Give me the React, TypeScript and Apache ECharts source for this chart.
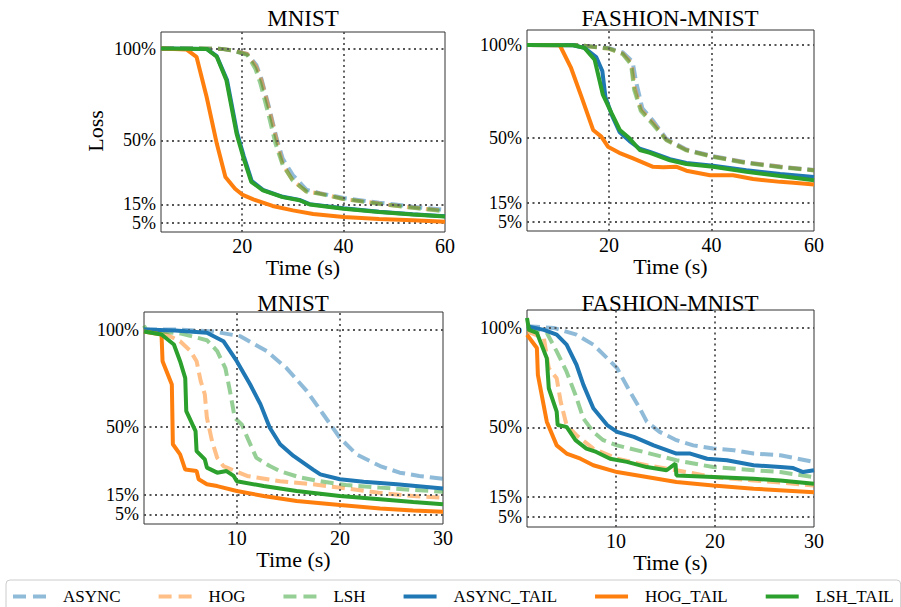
import React, { useEffect, useRef } from 'react';
import * as echarts from 'echarts';

const SERIES_NAMES = ['ASYNC', 'HOG', 'LSH', 'ASYNC_TAIL', 'HOG_TAIL', 'LSH_TAIL'];
const PANEL_TITLES = ['MNIST', 'FASHION-MNIST', 'MNIST', 'FASHION-MNIST'];
const Y_TICKS = [5, 15, 50, 100];
const X_TICKS_TOP = [20, 40, 60];
const X_TICKS_BOTTOM = [10, 20, 30];

// Panel 1: MNIST, 60 s
const mnist60Async = [[4, 100], [10, 100], [16, 99.8], [18, 99], [21, 97], [22.8, 91], [23.8, 83.5], [25.4, 67], [26.8, 51], [28, 40], [30, 31], [32.7, 23], [35.3, 21.2], [40, 18.5], [47, 16], [53.6, 13.8], [60, 12]];
const mnist60Hog = [[4, 100], [10, 100], [16, 99.8], [18, 99], [21, 97], [22.8, 90], [23.8, 82.7], [25.4, 66], [26.8, 50], [28, 37], [30, 28], [32.7, 22], [35.3, 21], [40, 18], [47, 15.5], [53.6, 13.3], [60, 11.5]];
const mnist60Lsh = [[4, 100], [10, 100], [16, 99.8], [18, 99], [21, 96.5], [22.6, 89], [23.6, 81], [25.2, 64], [26.6, 48], [28, 36.5], [30, 28], [32.7, 22], [35.3, 20.8], [40, 18], [47, 15.3], [53.6, 13.2], [60, 11.3]];
const mnist60AsyncTail = [[4, 100], [13, 99.8], [15, 95.8], [17, 83], [19, 54], [20.3, 41.5], [21.9, 27.8], [24.1, 23], [28, 19.2], [31.3, 17.5], [33.3, 15.2], [40, 12.9], [47, 11], [53.6, 9.7], [60, 8.6]];
const mnist60HogTail = [[4, 100], [9, 99.5], [11, 95.5], [13, 73.6], [15, 48.2], [16.7, 30], [18.6, 23.6], [20, 20.4], [22.2, 17.8], [26, 14.2], [30, 11.8], [34, 9.8], [40, 8.2], [47, 7.1], [53.6, 6.4], [60, 5.6]];
const mnist60LshTail = [[4, 100], [13, 99.8], [15, 95.5], [16.9, 82.7], [18.9, 53.6], [20.2, 41], [21.8, 27.3], [24.1, 22.7], [28, 19], [31.3, 17.3], [33.3, 15], [40, 12.7], [47, 10.9], [53.6, 9.6], [60, 8.5]];

// Panel 2: FASHION-MNIST, 60 s
const fashion60Async = [[4, 100], [13.6, 100], [20, 98.3], [22.7, 96], [24.6, 91], [25.3, 80], [26.5, 66], [28.8, 58.5], [31.2, 49.5], [35.1, 43.8], [40.3, 40.2], [46.8, 36.9], [53.4, 34.6], [60, 32.8]];
const fashion60Hog = [[4, 100], [13.6, 100], [20, 98], [22.7, 95.3], [24.4, 90], [25, 77], [26.3, 65], [28.6, 58], [31.2, 49], [35.1, 43.5], [40.3, 40], [46.8, 36.7], [53.4, 34.5], [60, 32.7]];
const fashion60Lsh = [[4, 100], [13.6, 100], [20, 98], [22.7, 95], [24.3, 89.5], [24.9, 76], [26.2, 64.5], [28.5, 57.5], [31.2, 48.8], [35.1, 43.3], [40.3, 39.8], [46.8, 36.5], [53.4, 34.3], [60, 32.5]];
const fashion60AsyncTail = [[4, 100], [13, 99.8], [15.2, 98.4], [17.5, 93.5], [18.7, 86], [19.3, 72], [20.6, 62], [22.1, 53], [24, 48.3], [26, 44.2], [28, 42.5], [31.9, 38.6], [35.1, 36.6], [40.3, 35.1], [46.8, 32.6], [53.4, 30.6], [60, 29]];
const fashion60HogTail = [[4, 100], [10.4, 99.8], [12.6, 87.6], [14.6, 72.3], [16.9, 54.3], [18.5, 50.7], [19.8, 45.3], [22, 42], [24.7, 39], [28.6, 34.5], [30.6, 34.2], [33.2, 34.5], [35.1, 32.4], [39.7, 30], [44.2, 30], [48.1, 27.9], [53.4, 26.4], [56, 25.9], [60, 25]];
const fashion60LshTail = [[4, 100], [13, 99.8], [15.2, 98.4], [17.2, 92], [18.8, 73.2], [20.5, 63.3], [22.1, 54.3], [24, 49.8], [26, 43.5], [28, 42], [31.9, 38], [35.1, 36], [40.3, 34.5], [46.8, 31.8], [53.4, 29.5], [60, 27.3]];

// Panel 3: MNIST, 30 s
const mnist30Async = [[1, 100], [4, 100], [7.7, 99], [10.3, 96.6], [12.9, 88.9], [14.8, 80.3], [16.8, 68.3], [18.4, 56.3], [20, 44.3], [21.6, 35.8], [23.9, 29.8], [25.8, 26.4], [27.7, 24.7], [30, 23.3]];
const mnist30Hog = [[1, 100], [3.2, 97.4], [4.5, 94], [5.5, 89], [6.1, 83.7], [6.5, 73.5], [6.9, 66.6], [7.1, 54.6], [7.6, 42.6], [8.1, 34], [8.7, 29.8], [11, 24.7], [14.2, 22], [17.4, 20.4], [20.6, 18.3], [23.9, 16], [27.1, 14.4], [30, 13.5]];
const mnist30Lsh = [[1, 102], [1.2, 100], [4.5, 98], [7.1, 94.5], [8.1, 88.9], [8.9, 80], [9.4, 66.6], [9.8, 54.6], [10.5, 51], [11.1, 43.5], [11.9, 34], [13.2, 29.8], [14.2, 27.2], [16.1, 24], [18.1, 22], [20.6, 20], [23.9, 18.7], [27.1, 17.5], [30, 16.6]];
const mnist30AsyncTail = [[1, 100], [4, 99.5], [7.1, 98.3], [8.7, 94], [10, 83.7], [11.3, 71.7], [12.3, 61.5], [13.2, 49.5], [14.2, 41], [15.5, 35], [17.4, 28], [18.1, 25.5], [20, 23], [22.3, 21.7], [25.5, 20.4], [30, 18.3]];
const mnist30HogTail = [[1, 99], [2.7, 97.4], [2.8, 83.7], [3.7, 71.7], [3.8, 41], [4.5, 35.8], [5, 28], [6.1, 27.2], [6.3, 23], [7.1, 20.4], [8.1, 19.5], [10, 17], [12.6, 14.4], [15.8, 11.8], [20, 9.8], [23.9, 8], [27.1, 7], [30, 6.3]];
const mnist30LshTail = [[1, 99], [2.7, 97.4], [3.9, 92.3], [4.5, 83.7], [5, 75], [5.1, 58], [6, 47.8], [6.1, 37.5], [6.9, 33.2], [7.1, 29], [8.1, 26.4], [9, 27.2], [9.7, 24.7], [10, 22], [12.6, 19.5], [15.8, 17], [20, 14.4], [23.9, 12.7], [27.1, 11.3], [30, 10.1]];

// Panel 4: FASHION-MNIST, 30 s
const fashion30Async = [[1, 100.8], [3.7, 100], [6, 96.6], [7.7, 91.6], [9.1, 84.8], [10.1, 79.8], [11.4, 68], [12.4, 59.6], [13.1, 52.9], [14.4, 47.8], [16.1, 43.6], [17.8, 41], [19.8, 39.4], [21.9, 38.6], [23.9, 36.9], [26.6, 36], [30, 32.7]];
const fashion30Hog = [[1, 98.3], [2.7, 95], [3.2, 79.8], [4, 74.7], [4.4, 63], [5, 51.2], [6, 46.1], [7.7, 39.4], [10.1, 34.3], [13.1, 31], [16.1, 28.5], [19.8, 25.1], [23.9, 23.4], [30, 20.9]];
const fashion30Lsh = [[1, 99.5], [3, 97.5], [4, 88.2], [5, 78], [5.9, 66.3], [6.7, 54.5], [7.7, 47.8], [8.7, 43.6], [10.1, 41], [12.8, 37.7], [16.1, 33.5], [19.8, 30.1], [23.9, 28.5], [26.6, 27.6], [30, 25]];
const fashion30AsyncTail = [[1, 100.8], [2.7, 99], [4, 96.6], [5, 91.6], [6, 81.5], [6.7, 71.4], [7.7, 59.6], [9.1, 51.2], [10.1, 47.8], [11.8, 45.3], [13.8, 41], [16.1, 36.9], [17.5, 36.9], [19.2, 34.3], [21.2, 33.5], [23.9, 31], [26.6, 30.1], [27.9, 29.6], [28.9, 27.6], [30, 28.5]];
const fashion30HogTail = [[1, 96.6], [2, 89.9], [2.1, 76.4], [3, 52.9], [4, 41], [5, 36.9], [6.4, 34.3], [7.7, 31], [10.1, 27.6], [13.1, 25.1], [16.1, 22.6], [19.8, 20.9], [23.9, 19.2], [30, 17.5]];
const fashion30LshTail = [[1, 105], [1.2, 99], [2, 97.5], [3, 84.8], [3.2, 69.7], [4, 57.9], [4.1, 51.2], [5, 50.3], [5.9, 43.6], [7, 39.4], [8, 37.7], [9.4, 34.3], [11.1, 32.7], [13.1, 30.1], [15.1, 28.5], [16, 31.8], [16.1, 25.9], [19.8, 25.1], [23.9, 24.2], [26.6, 23.4], [30, 21.7]];

const PANEL_DATA = [
  [mnist60Async, mnist60Hog, mnist60Lsh, mnist60AsyncTail, mnist60HogTail, mnist60LshTail],
  [fashion60Async, fashion60Hog, fashion60Lsh, fashion60AsyncTail, fashion60HogTail, fashion60LshTail],
  [mnist30Async, mnist30Hog, mnist30Lsh, mnist30AsyncTail, mnist30HogTail, mnist30LshTail],
  [fashion30Async, fashion30Hog, fashion30Lsh, fashion30AsyncTail, fashion30HogTail, fashion30LshTail],
];

const COLORS = ['#1f77b4', '#ff7f0e', '#2ca02c', '#1f77b4', '#ff7f0e', '#2ca02c'];
const FONT = 'Liberation Serif';
const ICON_DASHED = 'path://M0,0h13v4h-13z M20,0h13v4h-13z';
const ICON_SOLID = 'path://M0,0h33v4h-33z';

const GRIDS = [
  { left: 161, top: 32, width: 284, height: 200 },
  { left: 527, top: 30, width: 287, height: 201 },
  { left: 144, top: 312, width: 299, height: 212 },
  { left: 527, top: 310, width: 287, height: 217 },
];
const X_RANGE = [
  { min: 4, max: 60, interval: 4, ticks: X_TICKS_TOP },
  { min: 4, max: 60, interval: 4, ticks: X_TICKS_TOP },
  { min: 1, max: 30, interval: 1, ticks: X_TICKS_BOTTOM },
  { min: 1, max: 30, interval: 1, ticks: X_TICKS_BOTTOM },
];
const Y_MAX = [109, 108, 109, 109];
const TITLE_POS = [[303, 18], [670, 18.5], [293, 303.5], [670, 303]];

export default function App() {
  const ref = useRef<HTMLDivElement>(null);
  useEffect(() => {
    if (!ref.current) return;
    const chart = echarts.init(ref.current, null, { renderer: 'svg' });
    const series: any[] = [];
    PANEL_DATA.forEach((panel, pi) => {
      const xr = X_RANGE[pi];
      panel.forEach((data, si) => {
        const dashed = si < 3;
        const s: any = {
          name: SERIES_NAMES[si],
          type: 'line',
          xAxisIndex: pi,
          yAxisIndex: pi,
          data,
          symbol: 'none',
          showSymbol: false,
          z: 2 + si,
          itemStyle: { color: COLORS[si], opacity: dashed ? 0.5 : 1 },
          lineStyle: {
            color: COLORS[si],
            width: 4,
            opacity: dashed ? 0.5 : 1,
            type: dashed ? [13, 6] : 'solid',
          },
          emphasis: { disabled: true },
        };
        if (si === 0) {
          s.markLine = {
            silent: true,
            symbol: ['none', 'none'],
            label: { show: false },
            animation: false,
            lineStyle: { type: [2, 3.5], color: '#555', width: 1.8, opacity: 1 },
            emphasis: { disabled: true },
            data: [
              ...xr.ticks.filter((t) => t < xr.max).map((t) => ({ xAxis: t })),
              ...Y_TICKS.map((t) => ({ yAxis: t })),
            ],
          };
        }
        series.push(s);
      });
    });

    const graphic: any[] = PANEL_TITLES.map((t, i) => ({
      type: 'text',
      x: TITLE_POS[i][0],
      y: TITLE_POS[i][1],
      silent: true,
      style: {
        text: t,
        fontSize: 23,
        fontFamily: FONT,
        fill: '#000',
        align: 'center',
        verticalAlign: 'middle',
      },
    }));
    graphic.push({
      type: 'text',
      x: 95,
      y: 131,
      rotation: Math.PI / 2,
      silent: true,
      style: {
        text: 'Loss',
        fontSize: 22,
        fontFamily: FONT,
        fill: '#000',
        align: 'center',
        verticalAlign: 'middle',
      },
    });

    chart.setOption({
      animation: false,
      backgroundColor: '#fff',
      textStyle: { fontFamily: FONT },
      grid: GRIDS.map((g) => ({
        ...g,
        show: true,
        borderColor: '#333',
        borderWidth: 1,
        backgroundColor: 'transparent',
        containLabel: false,
      })),
      xAxis: X_RANGE.map((xr, i) => ({
        type: 'value',
        gridIndex: i,
        min: xr.min,
        max: xr.max,
        interval: xr.interval,
        name: 'Time (s)',
        nameLocation: 'middle',
        nameGap: 20,
        nameTextStyle: { fontSize: 22, fontFamily: FONT, color: '#000' },
        axisLine: { show: false },
        axisTick: { show: false },
        splitLine: { show: false },
        axisLabel: {
          margin: 4,
          fontSize: 20,
          fontFamily: FONT,
          color: '#000',
          showMinLabel: true,
          showMaxLabel: true,
          formatter: (v: number) => (xr.ticks.indexOf(Math.round(v * 1000) / 1000) >= 0 ? String(v) : ''),
        },
      })),
      yAxis: Y_MAX.map((m, i) => ({
        type: 'value',
        gridIndex: i,
        min: 0,
        max: m,
        interval: 5,
        axisLine: { show: false },
        axisTick: { show: false },
        splitLine: { show: false },
        axisLabel: {
          margin: 5,
          fontSize: 18,
          lineHeight: 16,
          fontFamily: FONT,
          color: '#000',
          formatter: (v: number) => (Y_TICKS.indexOf(Math.round(v * 1000) / 1000) >= 0 ? v + '%' : ''),
        },
      })),
      legend: {
        data: SERIES_NAMES.map((n, i) => ({ name: n, icon: i < 3 ? ICON_DASHED : ICON_SOLID })),
        left: 6,
        top: 580,
        orient: 'horizontal',
        padding: [8, 7, 8, 7],
        itemGap: 38,
        itemWidth: 33,
        itemHeight: 4,
        borderColor: '#ccc',
        borderWidth: 1,
        borderRadius: 4,
        backgroundColor: '#fff',
        selectedMode: false,
        textStyle: { fontSize: 17, fontFamily: FONT, color: '#000', padding: [0, 0, 0, 12] },
      },
      graphic,
      series,
    });
    return () => chart.dispose();
  }, []);
  return (
    <div
      ref={ref}
      style={{ position: 'fixed', left: 0, top: 0, width: 901, height: 607, background: '#fff' }}
    />
  );
}
